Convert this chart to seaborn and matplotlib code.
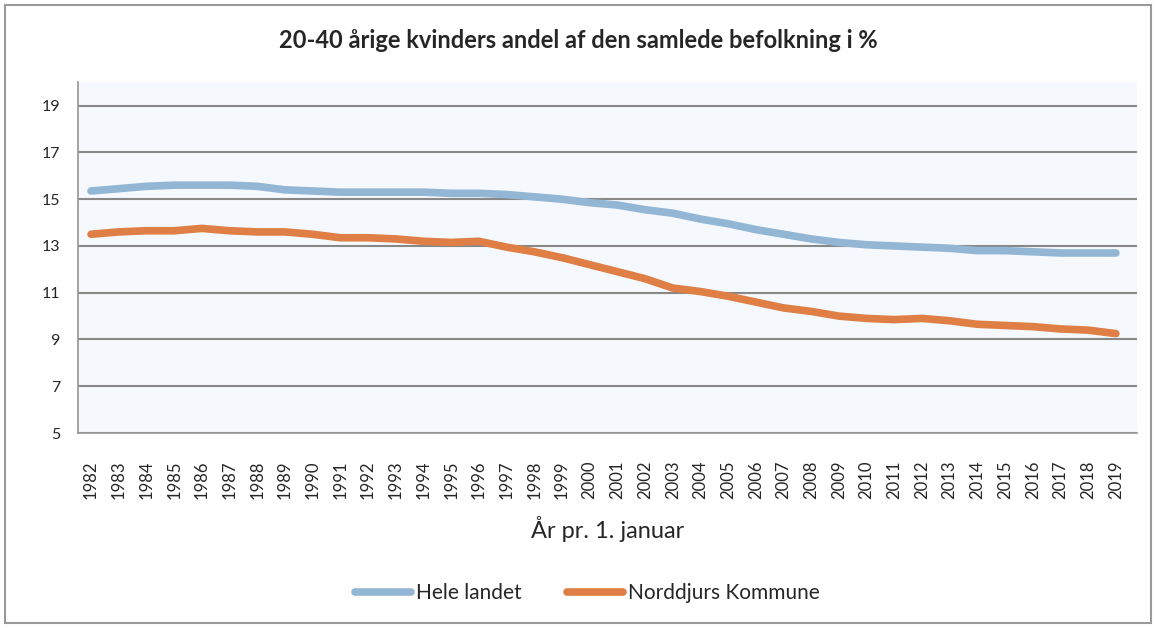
import matplotlib
matplotlib.use("Agg")
import matplotlib.pyplot as plt
import seaborn as sns
import pandas as pd
from matplotlib.patches import Rectangle

# Data
years = list(range(1982, 2020))
hele_landet = [15.35, 15.45, 15.55, 15.6, 15.6, 15.6, 15.55, 15.4, 15.35, 15.3,
               15.3, 15.3, 15.3, 15.25, 15.25, 15.2, 15.1, 15.0, 14.85, 14.75,
               14.55, 14.4, 14.15, 13.95, 13.7, 13.5, 13.3, 13.15, 13.05, 13.0,
               12.95, 12.9, 12.8, 12.8, 12.75, 12.7, 12.7, 12.7]
norddjurs = [13.5, 13.6, 13.65, 13.65, 13.75, 13.65, 13.6, 13.6, 13.5, 13.35,
             13.35, 13.3, 13.2, 13.15, 13.2, 12.95, 12.75, 12.5, 12.2, 11.9,
             11.6, 11.2, 11.05, 10.85, 10.6, 10.35, 10.2, 10.0, 9.9, 9.85,
             9.9, 9.8, 9.65, 9.6, 9.55, 9.45, 9.4, 9.25]
series_names = ["Hele landet", "Norddjurs Kommune"]
y_ticks = [5, 7, 9, 11, 13, 15, 17, 19]

df = pd.DataFrame({"year": years, series_names[0]: hele_landet, series_names[1]: norddjurs})
long_df = df.melt(id_vars="year", var_name="serie", value_name="andel")

sns.set_theme(style="white")
plt.rcParams["font.family"] = ["Lato", "DejaVu Sans"]

fig = plt.figure(figsize=(11.56, 6.28), dpi=100)
ax = fig.add_axes([0.0675, 0.3105, 0.916, 0.5585])
ax.set_facecolor("#F5F9FD")

palette = {series_names[0]: "#93B6D4", series_names[1]: "#DF7F45"}
sns.lineplot(data=long_df, x="year", y="andel", hue="serie", palette=palette,
             linewidth=5.5, ax=ax, legend=False, solid_capstyle="round")

ax.set_xlim(1981.53, 2019.76)
ax.set_ylim(5, 20)
ax.set_yticks(y_ticks)
ax.set_xticks(years)
ax.set_xticklabels([str(y) for y in years], rotation=90, fontsize=12)
ax.tick_params(axis="y", labelsize=11.5, length=5, color="#888888", direction="out", pad=8)
ax.tick_params(axis="x", length=0, pad=20)
ax.yaxis.grid(True, color="#888888", linewidth=1.5)
ax.set_axisbelow(True)
for side in ["top", "right"]:
    ax.spines[side].set_visible(False)
ax.spines["left"].set_color("#999999")
ax.spines["bottom"].set_color("#999999")

ax.set_xlabel("År pr. 1. januar", fontsize=17, labelpad=12)
ax.set_ylabel("")
fig.text(0.5, 0.935, "20-40 årige kvinders andel af den samlede befolkning i %",
         ha="center", va="center", fontsize=17, fontweight="bold")

# legend below the plot
handles = [plt.Line2D([], [], color=palette[n], linewidth=5.5, solid_capstyle="round") for n in series_names]
fig.legend(handles, series_names, loc="center", bbox_to_anchor=(0.508, 0.055), ncol=2,
           frameon=False, fontsize=15, handlelength=2.7, columnspacing=2.2, handletextpad=0.2)

fig.patches.append(Rectangle((0.004, 0.008), 0.992, 0.984, transform=fig.transFigure,
                             fill=False, edgecolor="#999999", linewidth=1.5))

fig.savefig("out.png", dpi=100)
